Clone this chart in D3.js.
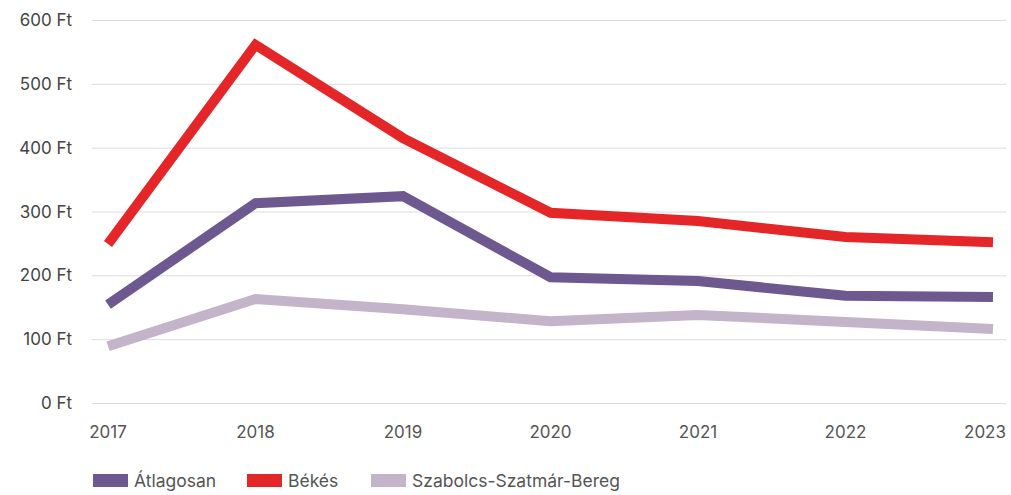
<!DOCTYPE html>
<html>
<head>
<meta charset="utf-8">
<script src="https://cdn.jsdelivr.net/npm/d3@7"></script>
<style>
  body { margin: 0; background: #fff; }
  svg { font-family: Inter, "Noto Sans", sans-serif; }
  .axis text { fill: #444; font-size: 17px; }
  .xlab text { fill: #555; }
  .legend text { fill: #555; font-size: 17.5px; }
</style>
</head>
<body>
<div id="chart"></div>
<script>
const years = ["2017", "2018", "2019", "2020", "2021", "2022", "2023"];
const yTicks = [0, 100, 200, 300, 400, 500, 600];

const atlagosan = [154, 313, 324, 197, 191, 168, 166];
const bekes = [249, 561, 415, 298, 285, 260, 252];
const szabolcs = [89, 163, 147, 128, 138, 127, 116];

const seriesNames = ["Átlagosan", "Békés", "Szabolcs-Szatmár-Bereg"];
const seriesColors = ["#6e5890", "#e52628", "#c4b4c9"];

const width = 1011;
const height = 495;

const series = [
   { name: seriesNames[0], colour: seriesColors[0], values: atlagosan },
   { name: seriesNames[1], colour: seriesColors[1], values: bekes },
   { name: seriesNames[2], colour: seriesColors[2], values: szabolcs }
];

const svg = d3.select("#chart").append("svg")
   .attr("width", width)
   .attr("height", height);

const x = d3.scalePoint()
   .domain(years)
   .range([108, 993]);

const y = d3.scaleLinear()
   .domain([0, 600])
   .range([403, 20]);

// grid lines + y labels
const yAxis = svg.append("g").attr("class", "axis");

yAxis.selectAll("line")
   .data(yTicks)
   .enter()
   .append("line")
   .attr("x1", 92)
   .attr("x2", 1006)
   .attr("y1", d => y(d) + 0.5)
   .attr("y2", d => y(d) + 0.5)
   .attr("stroke", "#dcdcdc")
   .attr("stroke-width", 1);

yAxis.selectAll("text")
   .data(yTicks)
   .enter()
   .append("text")
   .attr("x", 72)
   .attr("y", d => y(d) + 6)
   .style("text-anchor", "end")
   .text(d => `${d} Ft`);

// x labels (last one kept inside the plot edge)
const lastYear = years[years.length - 1];
svg.append("g").attr("class", "axis xlab")
   .selectAll("text")
   .data(years)
   .enter()
   .append("text")
   .attr("x", d => d == lastYear ? 1006 : x(d))
   .attr("y", 438)
   .style("text-anchor", d => d == lastYear ? "end" : "middle")
   .text(d => d);

const line = d3.line()
   .x((d, i) => x(years[i]))
   .y(d => y(d));

// draw light one first, then average, then Békés on top
[series[2], series[0], series[1]].forEach(s => {
   svg.append("path")
      .datum(s.values)
      .attr("fill", "none")
      .attr("stroke", s.colour)
      .attr("stroke-width", 10)
      .attr("stroke-linejoin", "miter")
      .attr("stroke-linecap", "butt")
      .attr("d", line);
});

// legend
const legendX = [93, 247, 371];
const legend = svg.append("g").attr("class", "legend");

series.forEach((s, i) => {
   legend.append("rect")
      .attr("x", legendX[i])
      .attr("y", 474)
      .attr("width", 35)
      .attr("height", 13)
      .style("fill", s.colour);

   legend.append("text")
      .attr("x", legendX[i] + 41)
      .attr("y", 487)
      .text(s.name);
});
</script>
</body>
</html>
